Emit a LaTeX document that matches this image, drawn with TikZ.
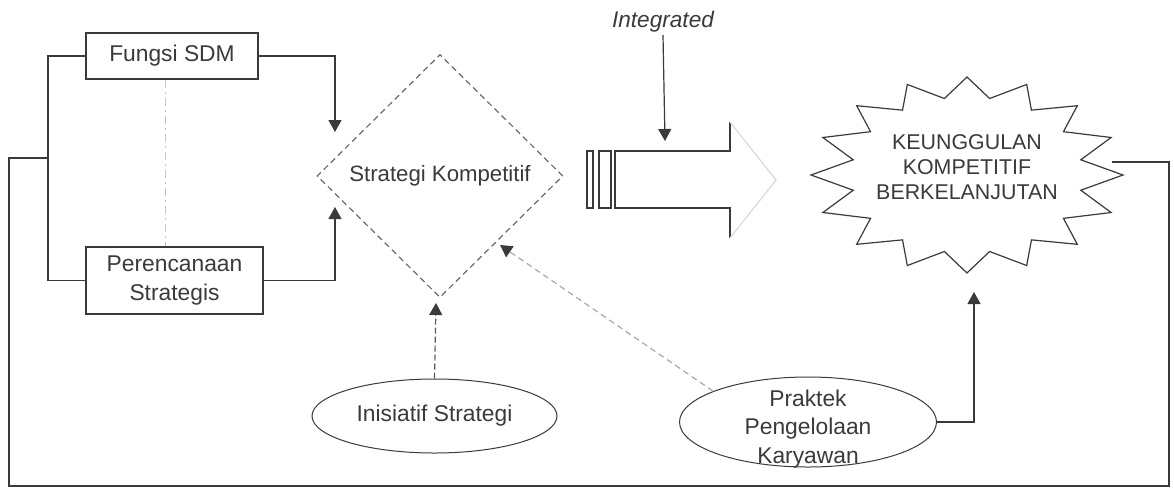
\documentclass[tikz,border=0pt]{standalone}
\usepackage{fontspec}
\setmainfont{Liberation Sans}
\usepackage{tikz}
\usetikzlibrary{arrows.meta,positioning,shapes.geometric,calc}
\definecolor{ink}{HTML}{3A3A3A}
\definecolor{faint}{HTML}{A8A8A8}
\tikzset{
  sdmbox/.style={draw=ink, rectangle, align=center, text=ink, line width=0.6pt, inner sep=0pt, font=\fontsize{11.4}{14.5}\selectfont},
  strat/.style={draw=ink!75, dashed, dash pattern=on 3pt off 2pt, diamond, aspect=1, inner sep=0pt, minimum width=123pt, minimum height=121.5pt, text=ink, line width=0.6pt, font=\fontsize{11.1}{13}\selectfont},
  oval/.style={draw=ink, ellipse, inner sep=0pt, line width=0.5pt, text=ink, font=\fontsize{11.4}{14.3}\selectfont},
  ovaltext/.style={align=center, text=ink, inner sep=0pt, font=\fontsize{11.4}{14.3}\selectfont},
  startext/.style={align=center, text=ink, inner sep=0pt, font=\fontsize{10.7}{12.5}\selectfont},
  starline/.style={draw=ink, line width=0.6pt, line join=miter},
  line/.style={draw=ink, line width=0.6pt},
  faintline/.style={draw=gray!30, line width=0.6pt},
  arrow/.style={draw=ink, line width=0.6pt, -{Triangle[length=6pt, width=6.5pt]}},
  dashedarrow/.style={draw=faint, line width=0.6pt, dashed, dash pattern=on 3pt off 2pt, -{Triangle[length=6pt, width=6.5pt, color=ink]}},
  darkdashedarrow/.style={draw=ink!85, line width=0.6pt, dashed, dash pattern=on 3pt off 1.5pt, -{Triangle[length=6pt, width=6.5pt, color=ink]}}
}

\begin{document}
\begin{tikzpicture}[x=0.5pt,y=-0.5pt]
  \useasboundingbox (0,0) rectangle (1174,489);
  \node[sdmbox, minimum width=86pt, minimum height=23pt] (fungsi) at (172,56) {Fungsi SDM};
  \node[sdmbox, minimum width=88.5pt, minimum height=33.5pt] (perencanaan) at (174.5,280.5) {Perencanaan\\Strategis};
  \node[strat] (strategi) at (440,176) {Strategi Kompetitif};
  \node[oval, minimum width=122.5pt, minimum height=37pt] (inisiatif) at (434.5,416) {Inisiatif Strategi};
  \node[oval, minimum width=128.5pt, minimum height=45pt] (praktek) at (808,422) {};
  \node[ovaltext] (praktektext) at (808,429) {Praktek\\Pengelolaan\\Karyawan};
  \node[font=\fontsize{11.3}{13}\selectfont\itshape, text=ink, inner sep=1pt] (integ) at (663,22) {Integrated};
  \node[startext] (keunggulan) at (967,167) {KEUNGGULAN\\KOMPETITIF\\BERKELANJUTAN};
  \coordinate (starc) at (967,175);
  \draw[starline] ($(starc)+(90:156 and 98)$) \foreach \a in {90,112.5,...,427.5} { -- ($(starc)+(\a+11.25:116 and 78)$) -- ($(starc)+(\a+22.5:156 and 98)$) } -- cycle;

  \coordinate (join) at (48,158);
  \coordinate (infungsi) at (335,132);
  \coordinate (inrencana) at (335,207);
  \coordinate (inisgt) at (436,303);
  \coordinate (praktekgt) at (500,245);
  \coordinate (inblock) at (665,141);
  \coordinate (starbot) at (974,292);
  \coordinate (starin) at (1112,162);

  \draw[line] (587,151) rectangle (593,208);
  \draw[line] (599,151) rectangle (611,208);
  \draw[line] (730,122) -- (730,151) -- (615,151) -- (615,208) -- (730,208) -- (730,238);
  \draw[faintline] (730,122) -- (776,180) -- (730,238);

  \draw[line] (fungsi.west) -| (join) |- (perencanaan.west);
  \draw[line] (join) -| (9,486) -| (1169,162) -- (starin);
  \draw[draw=gray!45, line width=0.5pt, dash pattern=on 4pt off 2pt on 1pt off 2pt] ($(fungsi.south)+(-7,0)$) -- ($(fungsi.south |- perencanaan.north)+(-7,0)$);
  \draw[arrow] (fungsi.east) -| (infungsi);
  \draw[arrow] (perencanaan.east) -| (inrencana);
  \draw[darkdashedarrow] (inisiatif.north) -- (inisgt);
  \draw[dashedarrow] (praktek.162) -- (praktekgt);
  \draw[arrow] (praktek.east) -| (starbot);
  \draw[arrow] (integ.south) -- (inblock);
\end{tikzpicture}
\end{document}
